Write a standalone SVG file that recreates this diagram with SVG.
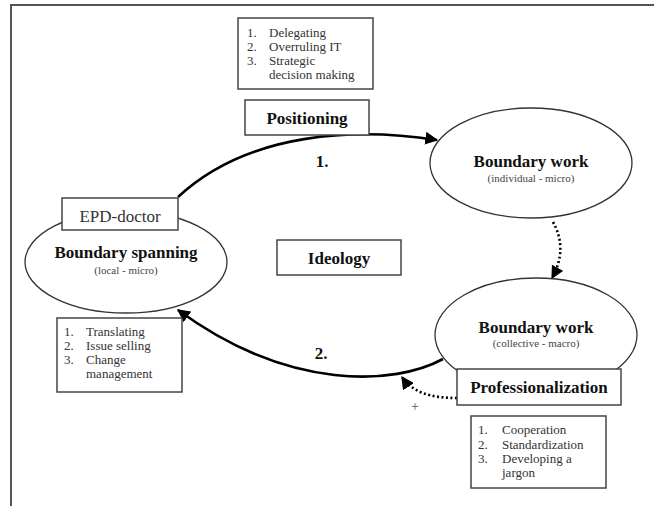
<svg xmlns="http://www.w3.org/2000/svg" width="654" height="506" viewBox="0 0 654 506">
<style>
text{font-family:'Liberation Serif','Times New Roman','DejaVu Serif',serif}
.frame{stroke:#555;stroke-width:2;fill:none}
.box{fill:#fff;stroke:#444;stroke-width:1.5}
.ell{fill:#fff;stroke:#333;stroke-width:1.3}
.lbl{font-weight:bold;font-size:17px;fill:#111;text-anchor:middle}
.reg{font-size:17px;fill:#333;text-anchor:middle}
.sub{font-size:11px;fill:#444;text-anchor:middle}
.lst{font-size:13px;fill:#333}
.solid{fill:none;stroke:#000;stroke-width:2.6}
.dot{fill:none;stroke:#000;stroke-width:2.6;stroke-dasharray:2 2.5}
</style>
<defs>
<marker id="ah" viewBox="0 0 10 10" refX="9" refY="5" markerWidth="5" markerHeight="5" orient="auto" markerUnits="strokeWidth">
<path d="M0,0 L10,5 L0,10 z" fill="#000"/>
</marker>
</defs>
<rect width="654" height="506" fill="#fff"/>
<g id="frame">
<line class="frame" x1="10" y1="5" x2="654" y2="5"/>
<line class="frame" x1="11" y1="5" x2="11" y2="506"/>
</g>
<g id="connectors">
<path class="solid" d="M178,197 C250,130 360,128 437,140" marker-end="url(#ah)"/>
<path class="dot" d="M553,222 C563,240 563,258 552,278" marker-end="url(#ah)"/>
<path class="solid" d="M443,359 C395,385 290,392 178,310" marker-end="url(#ah)"/>
<path class="dot" d="M457,398 C430,398 412,392 402,377" marker-end="url(#ah)"/>
</g>
<g id="delegating-list">
<rect class="box" x="238" y="18" width="135" height="71"/>
<text class="lst" x="247" y="37">1.</text><text class="lst" x="269" y="37">Delegating</text>
<text class="lst" x="247" y="51">2.</text><text class="lst" x="269" y="51">Overruling IT</text>
<text class="lst" x="247" y="65">3.</text><text class="lst" x="269" y="65">Strategic</text>
<text class="lst" x="269" y="79">decision making</text>
</g>
<g id="positioning">
<rect class="box" x="245" y="100" width="124" height="35"/>
<text class="lbl" x="307" y="124">Positioning</text>
</g>
<g id="label-1"><text class="lbl" x="322" y="167">1.</text></g>
<g id="boundary-work-individual">
<ellipse class="ell" cx="531" cy="163" rx="101" ry="55"/>
<text class="lbl" x="531" y="167">Boundary work</text>
<text class="sub" x="531" y="182">(individual - micro)</text>
</g>
<g id="boundary-spanning">
<ellipse class="ell" cx="126" cy="262" rx="101" ry="51"/>
<text class="lbl" x="126" y="258">Boundary spanning</text>
<text class="sub" x="126" y="274">(local - micro)</text>
</g>
<g id="epd-doctor">
<rect class="box" x="62" y="198" width="116" height="32"/>
<text class="reg" x="120" y="222">EPD-doctor</text>
</g>
<g id="ideology">
<rect class="box" x="277" y="240" width="124" height="35"/>
<text class="lbl" x="339" y="264">Ideology</text>
</g>
<g id="boundary-work-collective">
<ellipse class="ell" cx="536" cy="335" rx="101" ry="57"/>
<text class="lbl" x="536" y="333">Boundary work</text>
<text class="sub" x="536" y="347">(collective - macro)</text>
</g>
<g id="professionalization">
<rect class="box" x="457" y="369" width="164" height="36"/>
<text class="lbl" x="539" y="393">Professionalization</text>
</g>
<g id="label-2"><text class="lbl" x="321" y="359">2.</text></g>
<g id="plus"><text x="415" y="411" font-size="14" fill="#555" text-anchor="middle">+</text></g>
<g id="translating-list">
<rect class="box" x="57" y="318" width="125" height="74"/>
<text class="lst" x="64" y="336">1.</text><text class="lst" x="86" y="336">Translating</text>
<text class="lst" x="64" y="350">2.</text><text class="lst" x="86" y="350">Issue selling</text>
<text class="lst" x="64" y="364">3.</text><text class="lst" x="86" y="364">Change</text>
<text class="lst" x="86" y="378">management</text>
</g>
<g id="cooperation-list">
<rect class="box" x="471" y="416" width="135" height="72"/>
<text class="lst" x="478" y="434">1.</text><text class="lst" x="502" y="434">Cooperation</text>
<text class="lst" x="478" y="449">2.</text><text class="lst" x="502" y="449">Standardization</text>
<text class="lst" x="478" y="463">3.</text><text class="lst" x="502" y="463">Developing a</text>
<text class="lst" x="502" y="477">jargon</text>
</g>
</svg>
